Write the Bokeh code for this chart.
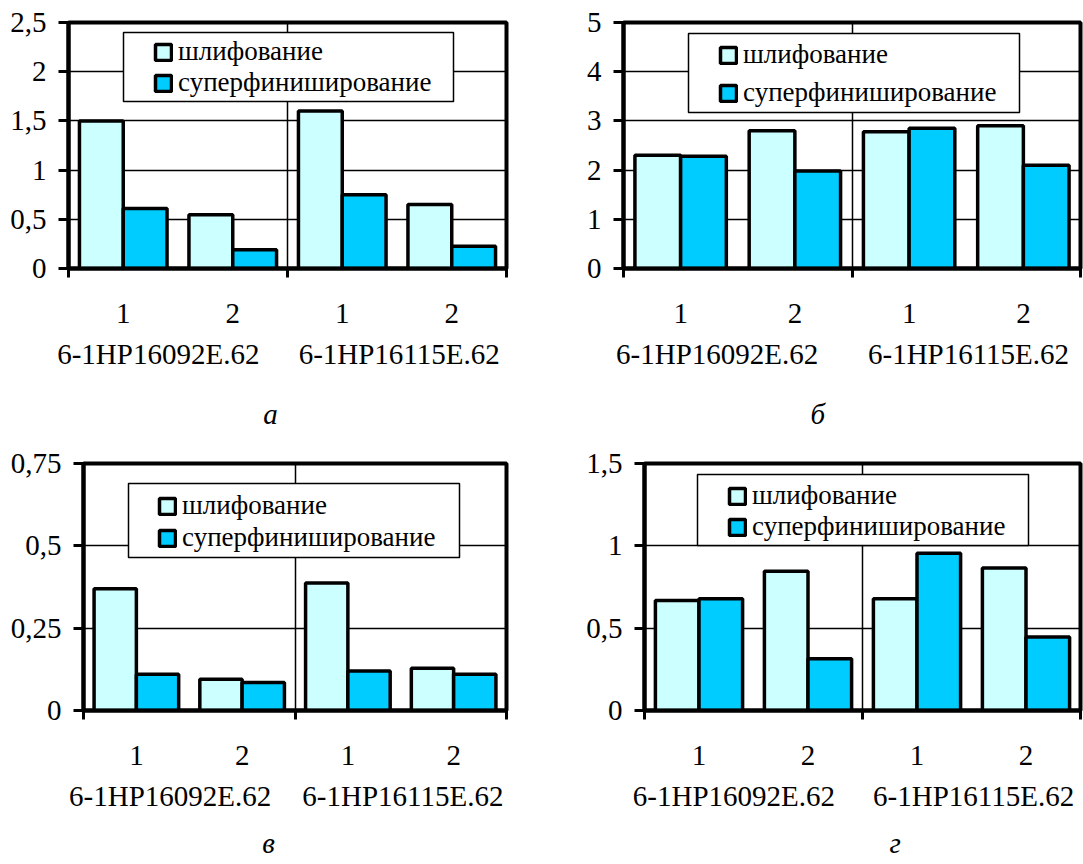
from bokeh.plotting import figure
from bokeh.models import (Range1d, LinearAxis, FixedTicker, CustomJSTickFormatter,
                          ColumnDataSource, Legend, LegendItem, BoxAnnotation, Grid)
from bokeh.transform import dodge
from bokeh.layouts import column, row
from bokeh.embed import file_html
from bokeh.resources import INLINE

# ---------------- data ----------------
GROUPS = ["6-1HP16092E.62", "6-1HP16115E.62"]
SUBS = ["1", "2"]
SERIES = ["шлифование", "суперфиниширование"]
COLORS = ["#CCFFFF", "#00CCFF"]

grind_a = [1.50, 0.545, 1.60, 0.65]
super_a = [0.61, 0.19, 0.75, 0.225]
yticks_a = [0, 0.5, 1, 1.5, 2, 2.5]

grind_b = [2.30, 2.80, 2.78, 2.90]
super_b = [2.28, 1.98, 2.85, 2.10]
yticks_b = [0, 1, 2, 3, 4, 5]

grind_c = [0.370, 0.095, 0.387, 0.128]
super_c = [0.110, 0.085, 0.120, 0.110]
yticks_c = [0, 0.25, 0.5, 0.75]

grind_d = [0.668, 0.845, 0.678, 0.865]
super_d = [0.678, 0.315, 0.955, 0.446]
yticks_d = [0, 0.5, 1, 1.5]

LETTERS = ["а", "б", "в", "г"]

FONT = "Liberation Serif"
TICK_SIZE = "29px"
LEG_SIZE = "27px"


def label_formatter(pos, lab):
    return CustomJSTickFormatter(args=dict(pos=pos, lab=lab),
                                 code="const i = pos.indexOf(tick); return i >= 0 ? lab[i] : ''")


def make_panel(letter, grind, superf, yticks, W, H, border, legbox, legloc, legspacing,
               letter_pos, letter_standoff):
    bl, br, bt, bb = border
    factors = [(g, s) for g in GROUPS for s in SUBS]
    n = len(factors)
    p = figure(x_range=Range1d(0, n), y_range=Range1d(0, yticks[-1]), width=W, height=H,
               output_backend="svg", toolbar_location=None, title=None,
               x_axis_location=None, y_axis_location=None,
               min_border_left=bl, min_border_right=br, min_border_top=bt,
               min_border_bottom=bb)
    p.center = [r for r in p.center if not isinstance(r, Grid)]
    p.outline_line_color = "black"
    p.outline_line_width = 4
    p.background_fill_color = "white"
    p.border_fill_color = "white"

    # grid lines
    p.add_layout(Grid(dimension=1, ticker=FixedTicker(ticks=yticks),
                      grid_line_color="black", grid_line_width=1.5))
    bounds = [i * len(SUBS) for i in range(len(GROUPS) + 1)]
    p.add_layout(Grid(dimension=0, ticker=FixedTicker(ticks=bounds[1:-1]),
                      grid_line_color="black", grid_line_width=1.5))

    # y axis
    y_ax = LinearAxis(ticker=FixedTicker(ticks=yticks),
                      formatter=CustomJSTickFormatter(code="return tick.toString().replace('.', ',')"),
                      axis_line_color="black", axis_line_width=4,
                      major_tick_out=10, major_tick_in=0, major_tick_line_width=3,
                      minor_tick_line_color=None, major_label_standoff=12,
                      major_label_text_font=FONT, major_label_text_font_size=TICK_SIZE,
                      major_label_text_color="black")
    p.add_layout(y_ax, "left")

    # x axis: group boundary ticks
    tick_ax = LinearAxis(ticker=FixedTicker(ticks=bounds),
                         formatter=label_formatter([], []),
                         axis_line_color="black", axis_line_width=4,
                         major_tick_out=9, major_tick_in=0, major_tick_line_width=3,
                         minor_tick_line_color=None, major_label_standoff=0,
                         major_label_text_font_size="0px")
    p.add_layout(tick_ax, "below")

    def text_axis(pos, lab, standoff, style="normal"):
        ax = LinearAxis(ticker=FixedTicker(ticks=pos), formatter=label_formatter(pos, lab),
                        axis_line_color=None, major_tick_line_color=None,
                        major_tick_out=0, major_tick_in=0, minor_tick_line_color=None,
                        major_label_standoff=standoff, major_label_text_font=FONT,
                        major_label_text_font_style=style,
                        major_label_text_font_size=TICK_SIZE, major_label_text_color="black")
        p.add_layout(ax, "below")

    # x axis: sub-category labels, group labels, panel letter
    sub_pos = [i + 0.5 for i in range(n)]
    sub_lab = [s for (g, s) in factors]
    text_axis(sub_pos, sub_lab, 26)
    text_axis([0.82, 3.02], GROUPS, 12)
    text_axis([letter_pos], [letter], letter_standoff, "italic")

    # bars
    src = ColumnDataSource(dict(xc=sub_pos, g=grind, s=superf))
    r1 = p.vbar(x=dodge("xc", -0.2), top="g", width=0.4, source=src,
                fill_color=COLORS[0], line_color="black", line_width=3.5)
    r2 = p.vbar(x=dodge("xc", 0.2), top="s", width=0.4, source=src,
                fill_color=COLORS[1], line_color="black", line_width=3.5)

    # legend
    l, r, t, b = legbox
    box = BoxAnnotation(left=l, right=r, top=t, bottom=b,
                        left_units="canvas", right_units="canvas",
                        top_units="canvas", bottom_units="canvas",
                        fill_color="white", fill_alpha=1.0,
                        line_color="black", line_width=1.5, line_alpha=1.0)
    p.add_layout(box)
    leg = Legend(items=[LegendItem(label=SERIES[0], renderers=[r1]),
                        LegendItem(label=SERIES[1], renderers=[r2])],
                 location=legloc, border_line_color=None, background_fill_alpha=0,
                 padding=0, margin=0, spacing=legspacing, glyph_width=20, glyph_height=20,
                 label_standoff=5, label_height=20, label_text_font=FONT,
                 label_text_font_size=LEG_SIZE, label_text_color="black")
    p.add_layout(leg)
    return p


pa = make_panel(LETTERS[0], grind_a, super_a, yticks_a, 541, 432, (68, 35, 22, 164),
                (123, 453, 32, 101), (85, 170), 0, 1.845, 25)
pb = make_panel(LETTERS[1], grind_b, super_b, yticks_b, 542, 432, (82, 3, 22, 164),
                (147, 478, 33, 112), (95, 160), 7, 1.70, 25)
pc = make_panel(LETTERS[2], grind_c, super_c, yticks_c, 541, 432, (83, 35, 31, 154),
                (128, 459, 51, 125), (74, 157), 1, 1.75, 12)
pd = make_panel(LETTERS[3], grind_d, super_d, yticks_d, 542, 432, (103, 3, 31, 154),
                (156, 487, 42, 113), (83, 168), 0, 2.30, 12)

layout = column(row(pa, pb, spacing=0), row(pc, pd, spacing=0), spacing=0)

with open("out.html", "w") as f:
    f.write(file_html(layout, INLINE))
